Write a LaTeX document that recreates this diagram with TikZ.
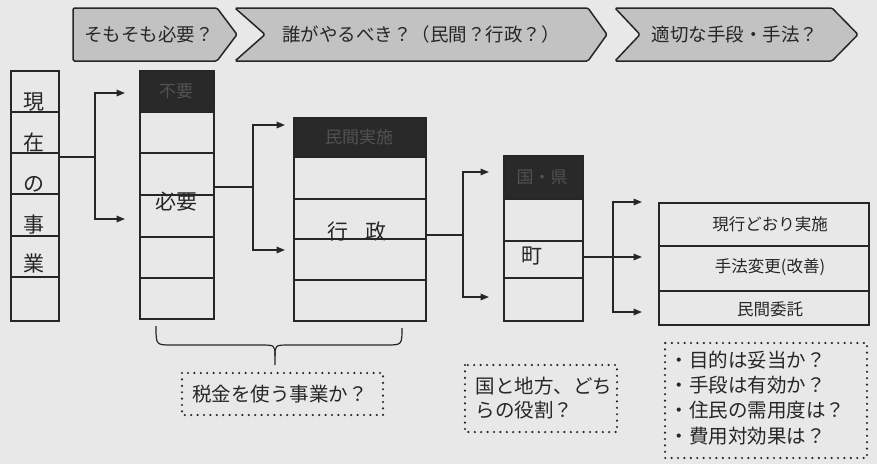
\documentclass[tikz,border=0pt]{standalone}
\usepackage{fontspec}
\setmainfont{Noto Sans CJK JP}
\usetikzlibrary{arrows.meta,calc}
\definecolor{ink}{gray}{0.15}
\definecolor{paper}{gray}{0.91}
\definecolor{banfill}{gray}{0.76}
\definecolor{darkcell}{gray}{0.16}
\begin{document}
\begin{tikzpicture}[x=1pt,y=-1pt,
  line width=1.7pt, draw=ink, text=ink,
  every node/.style={inner sep=0pt, font=\fontsize{18.5}{22}\selectfont},
  colbox/.style={draw, anchor=north west, inner sep=0pt},
  banner/.style={draw, fill=banfill, line width=1.5pt, rounded corners=1.5pt},
  fork/.style={line width=1.7pt, -{Triangle[length=8.5pt,width=6.5pt]}},
  dotbox/.style={draw, line width=2.4pt, line cap=round, dash pattern=on 0pt off 6.4pt},
  note/.style={font=\fontsize{19.5}{23}\selectfont},
  big/.style={font=\fontsize{21}{24}\selectfont},
  small/.style={font=\fontsize{16.5}{20}\selectfont},
  hidden/.style={text=black!68, font=\fontsize{17}{20}\selectfont}
]
\useasboundingbox (0,0) rectangle (877,464);
\fill[paper] (0,0) rectangle (877,464);

% ---------- banners ----------
\draw[banner] (73,8) -- (217,8) -- (237,34.5) -- (217,61) -- (73,61) -- cycle;
\node (b1) at (149,34.5) {そもそも必要？};
\draw[banner] (235,8) -- (588,8) -- (607,34.5) -- (588,61) -- (235,61) -- (265,34.5) -- cycle;
\node (b2) at (421,34.5) {誰がやるべき？（民間？行政？）};
\draw[banner] (615,8) -- (832,8) -- (858,34.5) -- (832,61) -- (615,61) -- (640,34.5) -- cycle;
\node (b3) at (735,34.5) {適切な手段・手法？};

% ---------- column 1 : 現在の事業 ----------
\node[colbox, minimum width=48, minimum height=250] (c1) at (10,70) {};
\foreach \y in {112,153,194,236,277} \draw (10,\y) -- (58,\y);
\node[big] (t11) at (34,102) {現};
\node[big] (t12) at (34,142) {在};
\node[big] (t13) at (34,184) {の};
\node[big] (t14) at (34,225) {事};
\node[big] (t15) at (34,264) {業};

% ---------- column 2 : 必要 ----------
\fill[darkcell] (139,70) rectangle (213,112);
\node[hidden] (h2) at (176,91) {不要};
\node[colbox, minimum width=74, minimum height=248] (c2) at (139,70) {};
\foreach \y in {112,153,195,237,278} \draw (139,\y) -- (213,\y);
\node[big] (t2) at (176,202) {必要};

% ---------- column 3 : 行政 ----------
\fill[darkcell] (293,117) rectangle (425,157);
\node[hidden] (h3) at (359,137) {民間実施};
\node[colbox, minimum width=132, minimum height=203] (c3) at (293,117) {};
\foreach \y in {157,199,239,280} \draw (293,\y) -- (425,\y);
\node[big] (t3) at (357,232) {行\hspace{0.8em}政};

% ---------- column 4 : 町 ----------
\fill[darkcell] (503,155) rectangle (582,199);
\node[hidden] (h4) at (542,177) {国・県};
\node[colbox, minimum width=79, minimum height=165] (c4) at (503,155) {};
\foreach \y in {199,241,278} \draw (503,\y) -- (582,\y);
\node[big] (t4) at (532,256) {町};

% ---------- box 5 : methods ----------
\node[colbox, minimum width=210, minimum height=122] (c5) at (658,202) {};
\draw (658,246) -- (868,246);
\draw (658,291) -- (868,291);
\node[small] (m1) at (770,224) {現行どおり実施};
\node[small] (m2) at (770,267) {手法変更(改善)};
\node[small] (m3) at (770,309) {民間委託};

% ---------- forks ----------
\coordinate (f1) at (95,157);
\draw (c1.east |- f1) -- (f1);
\draw[fork] (f1) |- (125,93);
\draw[fork] (f1) |- (125,219);

\coordinate (f2) at (253,187);
\draw (c2.east |- f2) -- (f2);
\draw[fork] (f2) |- (285,125);
\draw[fork] (f2) |- (285,250);

\coordinate (f3) at (463,235);
\draw (c3.east |- f3) -- (f3);
\draw[fork] (f3) |- (489,172);
\draw[fork] (f3) |- (489,297);

\coordinate (f4) at (613,257);
\draw[fork] (c4.east |- f4) -- (642,257);
\draw[fork] (f4) |- (642,202);
\draw[fork] (f4) |- (642,312);

% ---------- brace ----------
\draw[line width=1.2pt] (156,326) .. controls (156,345) .. (172,345) -- (260,345)
   .. controls (275,345) .. (275,356) -- (275,365);
\draw[line width=1.2pt] (275,356) .. controls (275,345) .. (290,345) -- (386,345)
   .. controls (402,345) .. (402,328);

% ---------- dotted notes ----------
\draw[dotbox] (182,373) rectangle (383,415);
\node[note] (n1) at (280,394) {税金を使う事業か？};

\draw[dotbox] (465,365) rectangle (617,432);
\node[note, anchor=west] (n2a) at (475,386) {国と地方、どち};
\node[note, anchor=west] (n2b) at (475,410) {らの役割？};

\draw[dotbox] (665,343) rectangle (867,458);
\node[note, anchor=west] (n3a) at (669,360) {・目的は妥当か？};
\node[note, anchor=west] (n3b) at (669,385) {・手段は有効か？};
\node[note, anchor=west] (n3c) at (669,410) {・住民の需用度は？};
\node[note, anchor=west] (n3d) at (669,436) {・費用対効果は？};
\end{tikzpicture}
\end{document}
